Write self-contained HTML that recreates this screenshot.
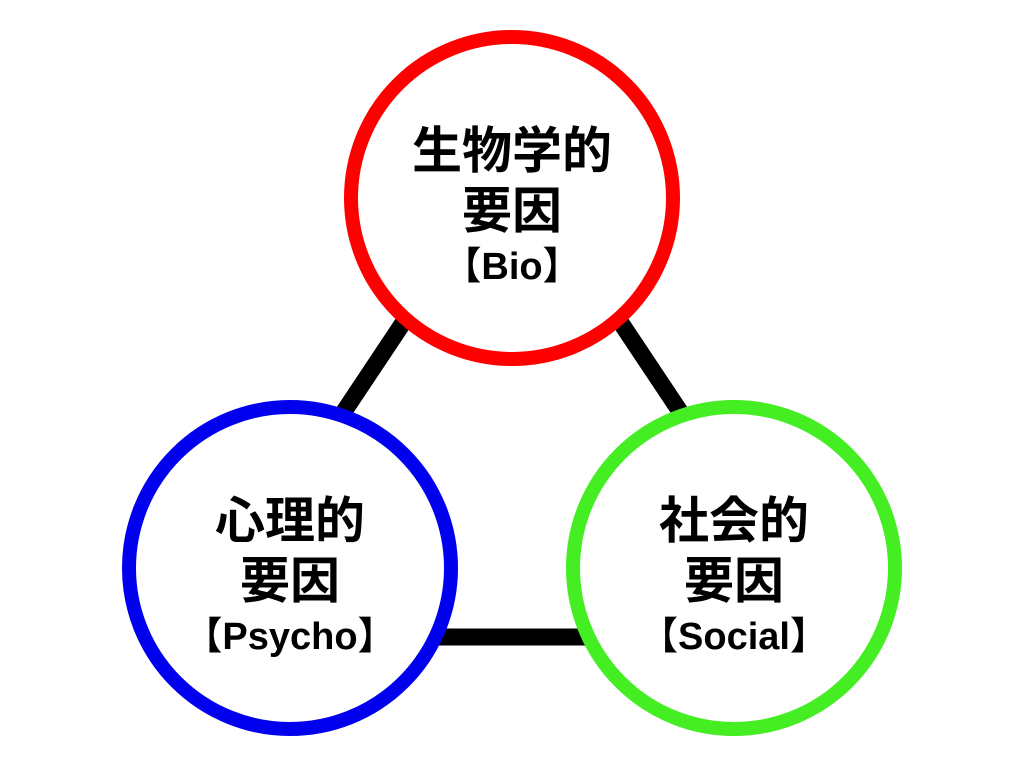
<!DOCTYPE html>
<html><head><meta charset="utf-8"><style>
html,body{margin:0;padding:0;background:#fff;}
</style></head><body>
<svg width="1024" height="768" viewBox="0 0 1024 768" xmlns="http://www.w3.org/2000/svg">
<g stroke="#000" stroke-width="17">
<line x1="425" y1="290" x2="325" y2="440"/>
<line x1="599" y1="290" x2="699" y2="440"/>
<line x1="400" y1="637" x2="624" y2="637"/>
</g>
<circle cx="512" cy="198" r="161" fill="#fff" stroke="#ff0000" stroke-width="14"/>
<circle cx="290" cy="568" r="161" fill="#fff" stroke="#0000ee" stroke-width="14"/>
<circle cx="734" cy="568" r="161" fill="#fff" stroke="#44ee22" stroke-width="14"/>
<g font-family="'Liberation Sans','Noto Sans CJK JP',sans-serif" font-weight="bold" fill="#000" text-anchor="middle">
<text x="512" y="168" font-size="50">生物学的</text>
<text x="512" y="228" font-size="50">要因</text>
<text x="512" y="279" font-size="38">【Bio】</text>
<text x="290" y="538" font-size="50">心理的</text>
<text x="290" y="598" font-size="50">要因</text>
<text x="290" y="649" font-size="38">【Psycho】</text>
<text x="734" y="538" font-size="50">社会的</text>
<text x="734" y="598" font-size="50">要因</text>
<text x="734" y="649" font-size="38">【Social】</text>
</g>
</svg>
</body></html>
